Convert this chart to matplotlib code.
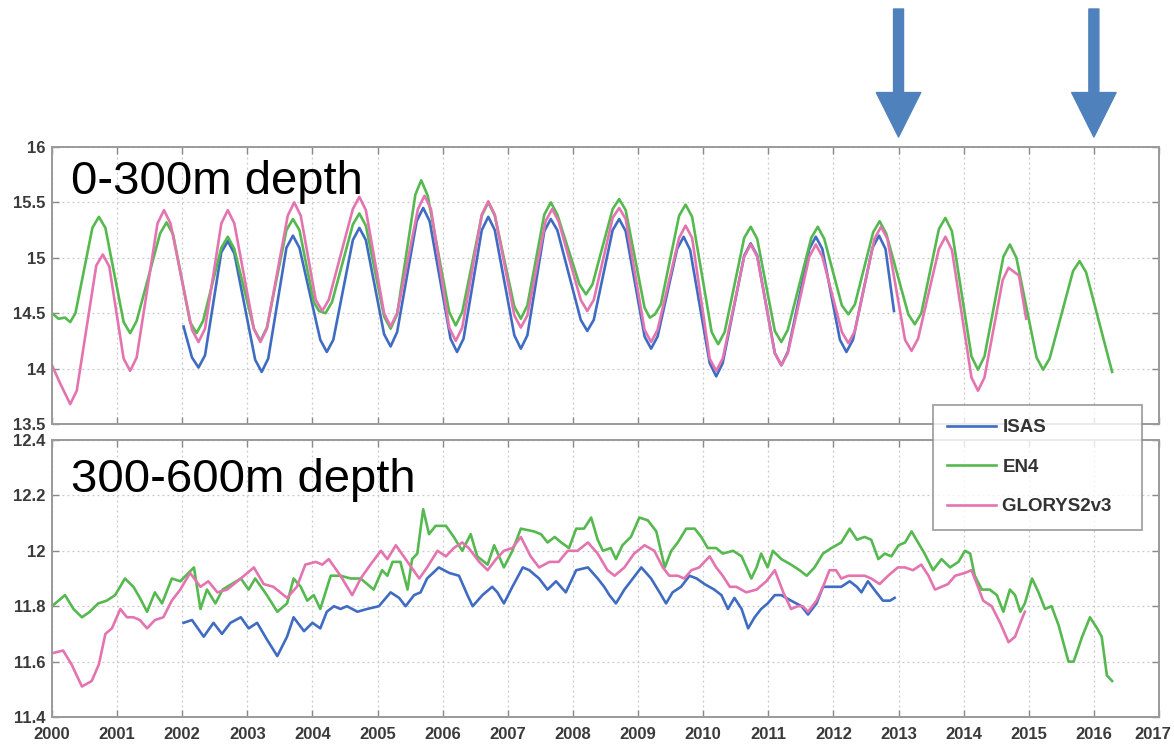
import numpy as np
import matplotlib
matplotlib.use('Agg')
import matplotlib.pyplot as plt
from matplotlib.transforms import blended_transform_factory, ScaledTranslation

# ---- 0-300m (peaks, troughs and their shoulders) ----
isasTopT = [2002.02, 2002.15, 2002.25, 2002.35, 2002.60, 2002.70, 2002.80, 2003.12, 2003.22, 2003.32,
            2003.60, 2003.70, 2003.80, 2004.12, 2004.22, 2004.32, 2004.62, 2004.72, 2004.82, 2005.10,
            2005.20, 2005.30, 2005.60, 2005.70, 2005.80, 2006.12, 2006.22, 2006.32, 2006.60, 2006.70,
            2006.80, 2007.10, 2007.20, 2007.30, 2007.56, 2007.66, 2007.76, 2008.12, 2008.22, 2008.32,
            2008.61, 2008.71, 2008.81, 2009.10, 2009.20, 2009.30, 2009.60, 2009.70, 2009.80, 2010.10,
            2010.20, 2010.30, 2010.63, 2010.73, 2010.83, 2011.10, 2011.20, 2011.30, 2011.63, 2011.73,
            2011.83, 2012.10, 2012.20, 2012.30, 2012.60, 2012.70, 2012.80, 2012.93]
isasTopV = [14.38, 14.10, 14.01, 14.12, 15.05, 15.15, 15.04, 14.08, 13.97, 14.09,
            15.09, 15.20, 15.09, 14.26, 14.15, 14.26, 15.16, 15.27, 15.16, 14.31,
            14.20, 14.33, 15.33, 15.45, 15.33, 14.27, 14.15, 14.27, 15.25, 15.37,
            15.25, 14.30, 14.18, 14.30, 15.24, 15.35, 15.25, 14.44, 14.34, 14.44,
            15.25, 15.35, 15.24, 14.29, 14.18, 14.29, 15.08, 15.19, 15.07, 14.05,
            13.93, 14.05, 15.02, 15.13, 15.02, 14.14, 14.03, 14.15, 15.08, 15.19,
            15.08, 14.26, 14.15, 14.26, 15.09, 15.20, 15.08, 14.52]

en4TopT = [2000.00, 2000.10, 2000.20, 2000.28, 2000.36, 2000.62, 2000.72, 2000.82, 2001.10, 2001.20,
           2001.30, 2001.66, 2001.76, 2001.86, 2002.12, 2002.22, 2002.32, 2002.60, 2002.70, 2002.80,
           2003.10, 2003.20, 2003.30, 2003.60, 2003.70, 2003.80, 2004.02, 2004.10, 2004.20, 2004.30,
           2004.62, 2004.72, 2004.82, 2005.10, 2005.20, 2005.30, 2005.58, 2005.67, 2005.77, 2006.10,
           2006.20, 2006.30, 2006.60, 2006.70, 2006.80, 2007.10, 2007.20, 2007.30, 2007.56, 2007.66,
           2007.76, 2008.10, 2008.20, 2008.30, 2008.61, 2008.71, 2008.81, 2009.10, 2009.18, 2009.26,
           2009.35, 2009.63, 2009.73, 2009.83, 2010.13, 2010.23, 2010.33, 2010.63, 2010.73, 2010.83,
           2011.10, 2011.20, 2011.30, 2011.66, 2011.76, 2011.86, 2012.13, 2012.23, 2012.33, 2012.61,
           2012.71, 2012.81, 2013.15, 2013.25, 2013.35, 2013.62, 2013.72, 2013.82, 2014.12, 2014.22,
           2014.32, 2014.61, 2014.71, 2014.81, 2015.12, 2015.22, 2015.32, 2015.68, 2015.78, 2015.88,
           2016.28]
en4TopV = [14.50, 14.45, 14.46, 14.42, 14.50, 15.27, 15.37, 15.27, 14.42, 14.32,
           14.43, 15.22, 15.32, 15.21, 14.42, 14.32, 14.43, 15.09, 15.19, 15.08,
           14.36, 14.25, 14.37, 15.25, 15.35, 15.25, 14.60, 14.52, 14.50, 14.60,
           15.30, 15.40, 15.29, 14.47, 14.36, 14.49, 15.57, 15.70, 15.56, 14.51,
           14.39, 14.51, 15.38, 15.50, 15.38, 14.56, 14.45, 14.57, 15.39, 15.50,
           15.39, 14.76, 14.67, 14.76, 15.44, 15.53, 15.43, 14.55, 14.46, 14.49,
           14.58, 15.38, 15.48, 15.37, 14.33, 14.22, 14.33, 15.18, 15.28, 15.17,
           14.34, 14.24, 14.35, 15.18, 15.28, 15.17, 14.57, 14.49, 14.58, 15.23,
           15.33, 15.22, 14.49, 14.40, 14.50, 15.26, 15.36, 15.24, 14.11, 13.99,
           14.11, 15.01, 15.12, 15.00, 14.10, 13.99, 14.09, 14.88, 14.97, 14.87,
           13.97]

glorysTopT = [2000.00, 2000.13, 2000.28, 2000.38, 2000.68, 2000.78, 2000.88, 2001.10, 2001.20, 2001.30,
              2001.62, 2001.72, 2001.82, 2002.15, 2002.25, 2002.35, 2002.60, 2002.70, 2002.80, 2003.10,
              2003.20, 2003.30, 2003.62, 2003.72, 2003.82, 2004.05, 2004.15, 2004.25, 2004.62, 2004.72,
              2004.82, 2005.10, 2005.20, 2005.30, 2005.62, 2005.72, 2005.82, 2006.10, 2006.20, 2006.30,
              2006.60, 2006.70, 2006.80, 2007.10, 2007.20, 2007.30, 2007.58, 2007.68, 2007.78, 2008.12,
              2008.22, 2008.32, 2008.61, 2008.71, 2008.81, 2009.10, 2009.20, 2009.30, 2009.63, 2009.73,
              2009.83, 2010.10, 2010.20, 2010.30, 2010.63, 2010.73, 2010.83, 2011.10, 2011.20, 2011.30,
              2011.63, 2011.73, 2011.83, 2012.13, 2012.23, 2012.33, 2012.63, 2012.73, 2012.83, 2013.10,
              2013.20, 2013.30, 2013.62, 2013.72, 2013.82, 2014.12, 2014.22, 2014.32, 2014.60, 2014.69,
              2014.85, 2014.96]
glorysTopV = [14.03, 13.86, 13.68, 13.80, 14.93, 15.03, 14.92, 14.09, 13.98, 14.10,
              15.31, 15.43, 15.31, 14.35, 14.24, 14.36, 15.31, 15.43, 15.31, 14.36,
              14.24, 14.36, 15.38, 15.50, 15.38, 14.62, 14.52, 14.62, 15.44, 15.55,
              15.43, 14.50, 14.38, 14.50, 15.44, 15.56, 15.44, 14.37, 14.25, 14.37,
              15.39, 15.51, 15.39, 14.48, 14.37, 14.48, 15.33, 15.44, 15.33, 14.62,
              14.52, 14.62, 15.36, 15.45, 15.35, 14.35, 14.24, 14.35, 15.18, 15.29,
              15.18, 14.09, 13.98, 14.09, 15.01, 15.12, 15.01, 14.14, 14.03, 14.14,
              15.01, 15.12, 15.01, 14.33, 14.23, 14.34, 15.17, 15.28, 15.17, 14.26,
              14.16, 14.27, 15.08, 15.19, 15.07, 13.92, 13.80, 13.92, 14.80, 14.91,
              14.84, 14.45]

# ---- 300-600m ----
isasBotT = [2002.02, 2002.15, 2002.33, 2002.48, 2002.61, 2002.74, 2002.90, 2003.02, 2003.15,
            2003.30, 2003.46, 2003.61, 2003.71, 2003.87, 2004.00, 2004.12, 2004.22, 2004.33,
            2004.43, 2004.53, 2004.69, 2004.84, 2005.02, 2005.20, 2005.33, 2005.43, 2005.56,
            2005.66, 2005.76, 2005.94, 2006.10, 2006.25, 2006.38, 2006.46, 2006.61, 2006.76,
            2006.84, 2006.94, 2007.07, 2007.23, 2007.33, 2007.48, 2007.61, 2007.74, 2007.89,
            2008.05, 2008.23, 2008.38, 2008.48, 2008.56, 2008.66, 2008.79, 2008.92, 2009.05,
            2009.20, 2009.33, 2009.43, 2009.53, 2009.66, 2009.79, 2009.90, 2010.02, 2010.17,
            2010.28, 2010.38, 2010.48, 2010.59, 2010.69, 2010.79, 2010.89, 2010.99, 2011.10,
            2011.20, 2011.35, 2011.51, 2011.61, 2011.74, 2011.84, 2011.97, 2012.12, 2012.25,
            2012.36, 2012.43, 2012.53, 2012.66, 2012.76, 2012.87, 2012.94]
isasBotV = [11.74, 11.75, 11.69, 11.74, 11.70, 11.74, 11.76, 11.72, 11.74,
            11.68, 11.62, 11.69, 11.76, 11.71, 11.74, 11.72, 11.78, 11.80,
            11.79, 11.80, 11.78, 11.79, 11.80, 11.85, 11.83, 11.80, 11.84,
            11.85, 11.90, 11.94, 11.92, 11.91, 11.84, 11.80, 11.84, 11.87,
            11.85, 11.81, 11.87, 11.94, 11.93, 11.90, 11.86, 11.89, 11.85,
            11.93, 11.94, 11.90, 11.87, 11.84, 11.81, 11.86, 11.90, 11.94,
            11.90, 11.85, 11.81, 11.85, 11.87, 11.91, 11.90, 11.88, 11.86,
            11.84, 11.79, 11.83, 11.79, 11.72, 11.76, 11.79, 11.81, 11.84,
            11.84, 11.82, 11.80, 11.77, 11.81, 11.87, 11.87, 11.87, 11.89,
            11.87, 11.85, 11.89, 11.85, 11.82, 11.82, 11.83]

en4BotT = [2000.00, 2000.20, 2000.33, 2000.46, 2000.58, 2000.71, 2000.84, 2000.97, 2001.12,
           2001.25, 2001.35, 2001.46, 2001.58, 2001.69, 2001.84, 2001.97, 2002.18, 2002.28,
           2002.38, 2002.51, 2002.62, 2002.90, 2003.02, 2003.12, 2003.30, 2003.46, 2003.61,
           2003.71, 2003.82, 2003.92, 2004.02, 2004.12, 2004.28, 2004.43, 2004.59, 2004.74,
           2004.94, 2005.07, 2005.15, 2005.23, 2005.35, 2005.46, 2005.53, 2005.61, 2005.70,
           2005.79, 2005.89, 2006.05, 2006.17, 2006.30, 2006.43, 2006.53, 2006.69, 2006.79,
           2006.94, 2007.07, 2007.20, 2007.40, 2007.51, 2007.61, 2007.72, 2007.82, 2007.94,
           2008.05, 2008.17, 2008.28, 2008.38, 2008.46, 2008.58, 2008.66, 2008.76, 2008.89,
           2009.02, 2009.15, 2009.28, 2009.35, 2009.41, 2009.51, 2009.61, 2009.74, 2009.87,
           2009.97, 2010.07, 2010.20, 2010.30, 2010.46, 2010.59, 2010.74, 2010.82, 2010.89,
           2010.99, 2011.07, 2011.20, 2011.35, 2011.48, 2011.59, 2011.71, 2011.84, 2011.97,
           2012.12, 2012.25, 2012.36, 2012.48, 2012.58, 2012.69, 2012.79, 2012.89, 2013.00,
           2013.10, 2013.20, 2013.30, 2013.40, 2013.53, 2013.66, 2013.79, 2013.92, 2014.02,
           2014.10, 2014.17, 2014.28, 2014.40, 2014.51, 2014.61, 2014.71, 2014.79, 2014.87,
           2014.94, 2015.05, 2015.15, 2015.25, 2015.35, 2015.46, 2015.61, 2015.69, 2015.82,
           2015.94, 2016.05, 2016.12, 2016.20, 2016.28]
en4BotV = [11.80, 11.84, 11.79, 11.76, 11.78, 11.81, 11.82, 11.84, 11.90,
           11.87, 11.83, 11.78, 11.85, 11.81, 11.90, 11.89, 11.94, 11.79,
           11.86, 11.81, 11.86, 11.90, 11.86, 11.90, 11.84, 11.78, 11.81,
           11.90, 11.87, 11.82, 11.84, 11.79, 11.91, 11.91, 11.90, 11.90,
           11.86, 11.93, 11.91, 11.96, 11.96, 11.86, 11.97, 11.99, 12.15,
           12.06, 12.09, 12.09, 12.05, 12.00, 12.06, 11.98, 11.95, 12.02,
           11.94, 12.00, 12.08, 12.07, 12.06, 12.03, 12.05, 12.03, 12.01,
           12.08, 12.08, 12.12, 12.04, 12.00, 12.01, 11.97, 12.02, 12.05,
           12.12, 12.11, 12.07, 12.00, 11.94, 12.00, 12.03, 12.08, 12.08,
           12.05, 12.01, 12.01, 11.99, 12.00, 11.98, 11.90, 11.94, 11.99,
           11.94, 12.00, 11.97, 11.95, 11.93, 11.91, 11.94, 11.99, 12.01,
           12.03, 12.08, 12.04, 12.05, 12.04, 11.97, 11.99, 11.98, 12.02,
           12.03, 12.07, 12.03, 11.99, 11.93, 11.97, 11.94, 11.96, 12.00,
           11.99, 11.91, 11.86, 11.86, 11.84, 11.78, 11.86, 11.84, 11.78,
           11.81, 11.90, 11.85, 11.79, 11.80, 11.73, 11.60, 11.60, 11.69,
           11.76, 11.72, 11.69, 11.55, 11.53]

glorysBotT = [2000.00, 2000.17, 2000.30, 2000.46, 2000.61, 2000.72, 2000.82, 2000.92, 2001.05,
              2001.15, 2001.25, 2001.35, 2001.46, 2001.58, 2001.71, 2001.84, 2001.97, 2002.12,
              2002.28, 2002.40, 2002.54, 2002.69, 2002.90, 2003.10, 2003.25, 2003.40, 2003.61,
              2003.76, 2003.89, 2004.05, 2004.15, 2004.25, 2004.43, 2004.61, 2004.74, 2004.89,
              2005.05, 2005.15, 2005.28, 2005.46, 2005.64, 2005.76, 2005.92, 2006.05, 2006.17,
              2006.30, 2006.40, 2006.56, 2006.69, 2006.82, 2006.94, 2007.07, 2007.20, 2007.35,
              2007.48, 2007.64, 2007.78, 2007.92, 2008.07, 2008.23, 2008.38, 2008.53, 2008.64,
              2008.79, 2008.94, 2009.10, 2009.25, 2009.38, 2009.48, 2009.61, 2009.71, 2009.82,
              2009.94, 2010.10, 2010.20, 2010.30, 2010.41, 2010.51, 2010.66, 2010.82, 2010.97,
              2011.10, 2011.23, 2011.35, 2011.45, 2011.53, 2011.61, 2011.74, 2011.84, 2011.94,
              2012.04, 2012.12, 2012.23, 2012.38, 2012.48, 2012.58, 2012.71, 2012.84, 2012.99,
              2013.10, 2013.22, 2013.35, 2013.46, 2013.56, 2013.66, 2013.76, 2013.87, 2014.02,
              2014.12, 2014.22, 2014.30, 2014.43, 2014.56, 2014.69, 2014.79, 2014.87, 2014.94]
glorysBotV = [11.63, 11.64, 11.59, 11.51, 11.53, 11.59, 11.70, 11.72, 11.79,
              11.76, 11.76, 11.75, 11.72, 11.75, 11.76, 11.82, 11.86, 11.92,
              11.87, 11.89, 11.85, 11.86, 11.90, 11.94, 11.88, 11.87, 11.83,
              11.87, 11.95, 11.96, 11.95, 11.97, 11.91, 11.84, 11.90, 11.95,
              12.00, 11.97, 12.02, 11.96, 11.90, 11.94, 12.00, 11.98, 12.01,
              12.03, 12.01, 11.96, 11.93, 11.97, 12.00, 12.01, 12.05, 11.98,
              11.94, 11.96, 11.96, 12.00, 12.00, 12.03, 11.99, 11.93, 11.91,
              11.94, 11.99, 12.02, 12.00, 11.94, 11.91, 11.91, 11.90, 11.93,
              11.94, 11.98, 11.94, 11.91, 11.87, 11.87, 11.85, 11.86, 11.89,
              11.93, 11.85, 11.79, 11.80, 11.80, 11.78, 11.82, 11.87, 11.93,
              11.93, 11.90, 11.91, 11.91, 11.91, 11.90, 11.88, 11.91, 11.94,
              11.94, 11.93, 11.95, 11.91, 11.86, 11.87, 11.88, 11.91, 11.92,
              11.93, 11.87, 11.82, 11.80, 11.74, 11.67, 11.69, 11.74, 11.78]

years = list(range(2000, 2018))
topTicks = [13.5, 14, 14.5, 15, 15.5, 16]
topTickLabels = ['13.5', '14', '14.5', '15', '15.5', '16']
botTicks = [11.4, 11.6, 11.8, 12, 12.2, 12.4]
botTickLabels = ['11.4', '11.6', '11.8', '12', '12.2', '12.4']
arrowYears = [2013, 2016]

colIsas = '#3f6cc2'
colEn4 = '#55b94f'
colGlorys = '#e474b0'
lw = 1.9

fig = plt.figure(figsize=(11.74, 7.52), dpi=100)
axTop = fig.add_axes([52/1174, 1-424/752, 1107/1174, 277/752])
axBot = fig.add_axes([52/1174, 1-717/752, 1107/1174, 277/752])

def styleAxis(ax, ticks, labels, showX):
    ax.set_xlim(2000, 2017)
    ax.set_ylim(ticks[0], ticks[-1])
    ax.set_xticks(years)
    ax.set_yticks(ticks)
    ax.set_yticklabels(labels)
    if showX:
        ax.set_xticklabels([str(y) for y in years])
    else:
        ax.set_xticklabels([])
    ax.grid(True, linestyle=(0, (1.5, 2.5)), color='#c8c8c8', linewidth=0.9)
    ax.tick_params(direction='in', length=5, width=1, color='#8a8a8a',
                   top=True, right=True, labelsize=12, labelcolor='#3a3a3a', pad=5)
    for lab in ax.get_xticklabels() + ax.get_yticklabels():
        lab.set_fontweight('bold')
        lab.set_family('Liberation Sans')
    for s in ax.spines.values():
        s.set_color('#9a9a9a')
        s.set_linewidth(1.4)

axTop.plot(isasTopT, isasTopV, color=colIsas, lw=lw)
axTop.plot(en4TopT, en4TopV, color=colEn4, lw=lw)
axTop.plot(glorysTopT, glorysTopV, color=colGlorys, lw=lw)
styleAxis(axTop, topTicks, topTickLabels, False)

lIsas, = axBot.plot(isasBotT, isasBotV, color=colIsas, lw=lw, label='ISAS')
lEn4, = axBot.plot(en4BotT, en4BotV, color=colEn4, lw=lw, label='EN4')
lGlo, = axBot.plot(glorysBotT, glorysBotV, color=colGlorys, lw=lw, label='GLORYS2v3   ')
styleAxis(axBot, botTicks, botTickLabels, True)
axBot.tick_params(axis='x', pad=7)
# last year label sits on the right edge; nudge it in a little
lastLab = axBot.get_xticklabels()[-1]
lastLab.set_transform(lastLab.get_transform() + ScaledTranslation(-6/100, 0, fig.dpi_scale_trans))

fig.text(71/1174, 1-194/752, '0-300m depth', fontsize=34, family='Liberation Sans',
         color='black', va='baseline', ha='left')
fig.text(71/1174, 1-492/752, '300-600m depth', fontsize=34, family='Liberation Sans',
         color='black', va='baseline', ha='left')

leg = fig.legend(handles=[lIsas, lEn4, lGlo], loc='upper left',
                 bbox_to_anchor=(933/1174, 1-405/752), frameon=True, fancybox=False,
                 borderaxespad=0, handlelength=2.6, handletextpad=0.35, labelspacing=1.2,
                 borderpad=0.75, prop={'family': 'Liberation Sans', 'size': 13.5, 'weight': 'bold'})
leg.get_frame().set_edgecolor('#8a8a8a')
leg.get_frame().set_linewidth(1.3)
for t in leg.get_texts():
    t.set_color('#333333')

# blue arrows pointing at 2013 and 2016
tr = blended_transform_factory(axTop.transData, fig.transFigure)
for yr in arrowYears:
    axTop.annotate('', xy=(yr, 1-137/752), xycoords=tr, xytext=(yr, 1-9/752), textcoords=tr,
                   annotation_clip=False,
                   arrowprops=dict(arrowstyle='simple,head_width=3.2,head_length=3.2,tail_width=0.72',
                                   color='#4f81bd', shrinkA=0, shrinkB=0, mutation_scale=10))

fig.savefig('out.png', dpi=100)
